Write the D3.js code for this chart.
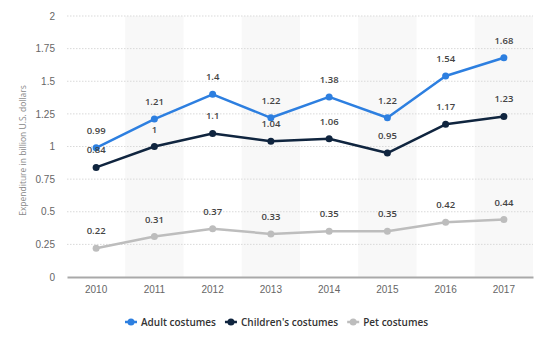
<!DOCTYPE html>
<html>
<head>
<meta charset="utf-8">
<script src="https://cdn.jsdelivr.net/npm/d3@7"></script>
<style>
  body { margin: 0; background: #fff; }
  svg { display: block; font-family: "Open Sans", sans-serif; }
  .grid line { stroke: #d9d9d9; stroke-dasharray: 1.5 1.5; }
  .axis text { fill: #666; font-size: 10px; }
  .val { font-size: 9.5px; font-weight: 600; fill: #444; }
  .legend text { font-size: 10px; font-weight: 600; fill: #333; }
</style>
</head>
<body>
<svg id="chart" width="554" height="339"></svg>
<script>
const years = ['2010', '2011', '2012', '2013', '2014', '2015', '2016', '2017'];
const adult = [0.99, 1.21, 1.4, 1.22, 1.38, 1.22, 1.54, 1.68];
const children = [0.84, 1, 1.1, 1.04, 1.06, 0.95, 1.17, 1.23];
const pets = [0.22, 0.31, 0.37, 0.33, 0.35, 0.35, 0.42, 0.44];
const yTicks = [0, 0.25, 0.5, 0.75, 1, 1.25, 1.5, 1.75, 2];

const series = [
  { name: 'Adult costumes', values: adult, color: '#2d7fe0' },
  { name: "Children's costumes", values: children, color: '#10253f' },
  { name: 'Pet costumes', values: pets, color: '#bdbdbd' }
];

const svg = d3.select('#chart');
const plotLeft = 67, plotRight = 533, plotTop = 16, plotBottom = 277;

const x = d3.scaleBand().domain(years).range([plotLeft, plotRight]);
const y = d3.scaleLinear().domain([0, 2]).range([plotBottom, plotTop]);

// shaded columns for every other year
svg.append('g').selectAll('rect')
  .data(years.filter((d, i) => i % 2 === 1))
  .join('rect')
  .attr('x', d => x(d))
  .attr('y', plotTop)
  .attr('width', x.bandwidth())
  .attr('height', plotBottom - plotTop)
  .attr('fill', '#f8f8f8');

// horizontal grid
svg.append('g').attr('class', 'grid')
  .selectAll('line')
  .data(yTicks.filter(d => d > 0))
  .join('line')
  .attr('x1', plotLeft).attr('x2', plotRight)
  .attr('y1', d => y(d)).attr('y2', d => y(d));

// y axis labels
const yAxis = svg.append('g').attr('class', 'axis')
  .attr('transform', `translate(${plotLeft - 12},0)`)
  .call(d3.axisLeft(y).tickValues(yTicks).tickSize(0).tickPadding(0).tickFormat(d => String(d)));
yAxis.select('.domain').remove();

// x axis
const xAxis = svg.append('g').attr('class', 'axis')
  .attr('transform', `translate(0,${plotBottom})`)
  .call(d3.axisBottom(x).tickSize(0).tickPadding(9));
xAxis.select('.domain').attr('stroke', '#a9a9a9').attr('stroke-width', 2);
xAxis.selectAll('text').attr('font-size', '9.5px');

svg.append('text')
  .attr('transform', `translate(26,${(plotTop + plotBottom) / 2 + 4}) rotate(-90)`)
  .attr('text-anchor', 'middle')
  .attr('font-size', '8.5px')
  .attr('fill', '#888')
  .text('Expenditure in billion U.S. dollars');

const line = d3.line()
  .x((d, i) => x(years[i]) + x.bandwidth() / 2)
  .y(d => y(d));

// draw bottom series first so the blue line sits on top
[...series].reverse().forEach(s => {
  const g = svg.append('g');
  g.append('path')
    .attr('d', line(s.values))
    .attr('fill', 'none')
    .attr('stroke', s.color)
    .attr('stroke-width', 2.5)
    .attr('stroke-linejoin', 'round');
  g.selectAll('circle')
    .data(s.values)
    .join('circle')
    .attr('cx', (d, i) => x(years[i]) + x.bandwidth() / 2)
    .attr('cy', d => y(d))
    .attr('r', 3.5)
    .attr('fill', s.color);
});

series.forEach(s => {
  svg.append('g').selectAll('text')
    .data(s.values)
    .join('text')
    .attr('class', 'val')
    .attr('x', (d, i) => x(years[i]) + x.bandwidth() / 2)
    .attr('y', d => y(d) - 14)
    .attr('text-anchor', 'middle')
    .text(d => String(d));
});

// legend
const legend = svg.append('g').attr('class', 'legend');
let lx = 125;
series.forEach(s => {
  const item = legend.append('g').attr('transform', `translate(${lx},322)`);
  item.append('line')
    .attr('x1', 0).attr('x2', 12)
    .attr('stroke', s.color).attr('stroke-width', 2.5);
  item.append('circle').attr('cx', 6).attr('r', 3.5).attr('fill', s.color);
  const t = item.append('text').attr('x', 16).attr('dy', '0.35em').text(s.name);
  lx += 16 + t.node().getComputedTextLength() + 9;
});
</script>
</body>
</html>
